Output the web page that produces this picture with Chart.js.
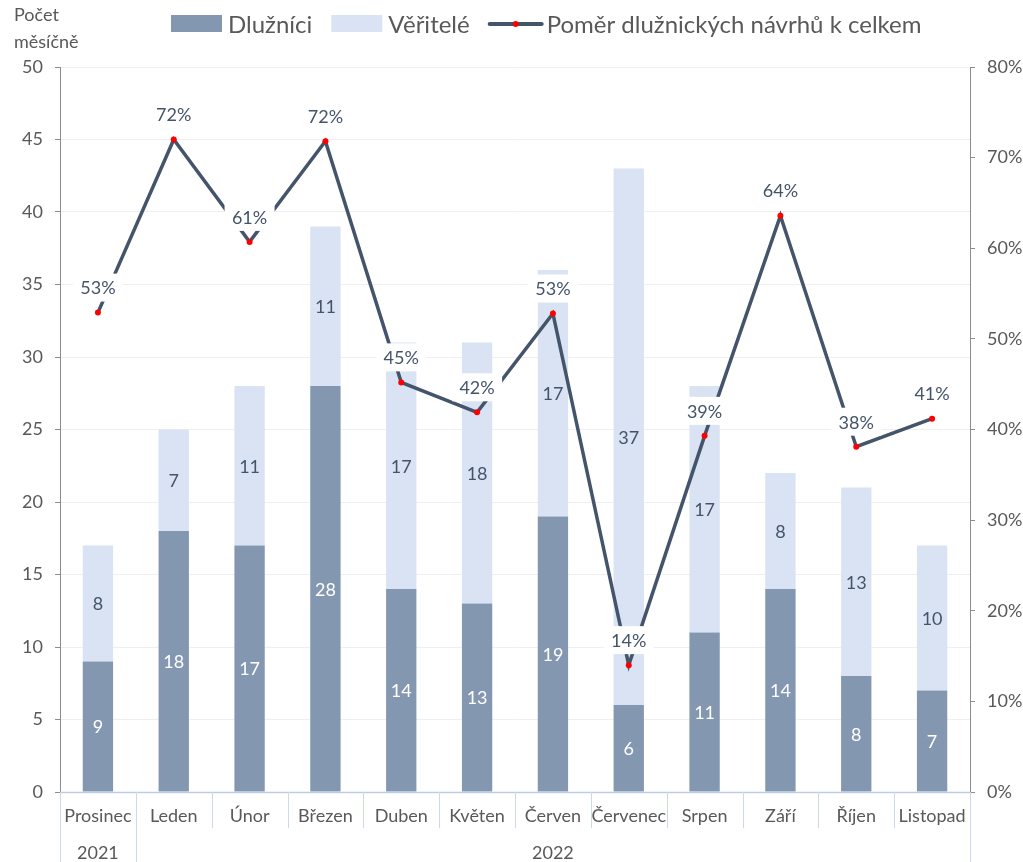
<!DOCTYPE html>
<html>
<head>
<meta charset="utf-8">
<script src="https://cdn.jsdelivr.net/npm/chart.js@4"></script>
<style>
html,body{margin:0;padding:0;background:#fff;}
#wrap{width:1023px;height:862px;position:relative;}
</style>
</head>
<body>
<div id="wrap"><canvas id="c"></canvas></div>
<script>
const categories = ['Prosinec','Leden','Únor','Březen','Duben','Květen','Červen','Červenec','Srpen','Září','Říjen','Listopad'];
const yearLabels = ['2021','2022'];
const yearSpans = [1, 11];
const dluznici = [9,18,17,28,14,13,19,6,11,14,8,7];
const veritele = [8,7,11,11,17,18,17,37,17,8,13,10];
const pomer = [0.529,0.72,0.607,0.718,0.452,0.419,0.528,0.14,0.393,0.636,0.381,0.412];
const seriesNames = ['Dlužníci','Věřitelé','Poměr dlužnických návrhů k celkem'];
const axisTitle = ['Počet','měsíčně'];

const FONT = 'Lato, "Open Sans", sans-serif';
const TXT = '#595959';
const C_DARK = '#8497B0', C_LIGHT = '#DAE3F3', C_LINE = '#44546A';

const overlay = {
  id: 'overlay',
  afterDatasetsDraw(chart) {
    const ctx = chart.ctx;
    ctx.save();
    ctx.font = '18px ' + FONT;
    ctx.textAlign = 'center';
    ctx.textBaseline = 'middle';
    [0,1].forEach(di => {
      const meta = chart.getDatasetMeta(di);
      const data = chart.data.datasets[di].data;
      meta.data.forEach((el, i) => {
        const cy = (el.y + el.base) / 2;
        ctx.fillStyle = di === 0 ? '#FFFFFF' : '#44546A';
        ctx.fillText(String(data[i]), el.x, cy + 1);
      });
    });
    const lm = chart.getDatasetMeta(2);
    lm.data.forEach((el, i) => {
      const v = chart.data.datasets[2].data[i];
      const cy = el.y - 25;
      ctx.fillStyle = '#FFFFFF';
      ctx.fillRect(el.x - 25, cy - 14, 50, 28);
      ctx.fillStyle = '#44546A';
      ctx.fillText(Math.round(v * 100) + '%', el.x, cy + 1);
    });
    ctx.restore();
  },
  afterDraw(chart) {
    const ctx = chart.ctx;
    const xs = chart.scales.x;
    const area = chart.chartArea;
    ctx.save();
    ctx.strokeStyle = '#BCCBE6';
    ctx.lineWidth = 1.5;
    ctx.beginPath();
    ctx.moveTo(area.left, area.bottom + 0.5);
    ctx.lineTo(area.right, area.bottom + 0.5);
    ctx.stroke();
    const n = categories.length;
    const bounds = [];
    for (let i = 0; i <= n; i++) {
      let b;
      if (i === 0) b = area.left;
      else if (i === n) b = area.right;
      else b = (xs.getPixelForValue(i - 1) + xs.getPixelForValue(i)) / 2;
      bounds.push(b);
    }
    ctx.strokeStyle = '#CFD8EA';
    ctx.lineWidth = 1;
    bounds.forEach(b => {
      ctx.beginPath();
      ctx.moveTo(Math.round(b) + 0.5, area.bottom);
      ctx.lineTo(Math.round(b) + 0.5, area.bottom + 36);
      ctx.stroke();
    });
    ctx.font = '18px ' + FONT;
    ctx.fillStyle = TXT;
    ctx.textAlign = 'center';
    ctx.textBaseline = 'middle';
    categories.forEach((c, i) => {
      ctx.fillText(c, xs.getPixelForValue(i), area.bottom + 24);
    });
    let start = 0;
    const ybounds = [0];
    yearLabels.forEach((y, k) => {
      const end = start + yearSpans[k];
      const x0 = bounds[start], x1 = bounds[end];
      ctx.fillText(y, (x0 + x1) / 2, area.bottom + 61);
      ybounds.push(end);
      start = end;
    });
    ybounds.forEach(bi => {
      const b = bounds[bi];
      ctx.beginPath();
      ctx.moveTo(Math.round(b) + 0.5, area.bottom + 36);
      ctx.lineTo(Math.round(b) + 0.5, chart.height);
      ctx.stroke();
    });
    ctx.textAlign = 'left';
    ctx.fillText(axisTitle[0], 14, 15);
    ctx.fillText(axisTitle[1], 14, 42);
    ctx.font = '24px ' + FONT;
    ctx.textBaseline = 'middle';
    let cx = 171;
    const ly = 24;
    [0,1].forEach(di => {
      ctx.fillStyle = chart.data.datasets[di].backgroundColor;
      ctx.fillRect(cx, 15, 51, 17);
      ctx.fillStyle = TXT;
      ctx.fillText(seriesNames[di], cx + 57, ly + 1);
      cx = cx + 57 + ctx.measureText(seriesNames[di]).width + 19;
    });
    ctx.strokeStyle = C_LINE;
    ctx.lineWidth = 4;
    ctx.lineCap = 'round';
    ctx.beginPath();
    ctx.moveTo(cx + 1, ly);
    ctx.lineTo(cx + 53, ly);
    ctx.stroke();
    ctx.fillStyle = '#FF0000';
    ctx.beginPath();
    ctx.arc(cx + 27, ly, 3, 0, Math.PI * 2);
    ctx.fill();
    ctx.fillStyle = TXT;
    ctx.fillText(seriesNames[2], cx + 58, ly + 1);
    ctx.restore();
  }
};

new Chart(document.getElementById('c'), {
  type: 'bar',
  data: {
    labels: categories,
    datasets: [
      { type: 'bar', label: seriesNames[0], data: dluznici, backgroundColor: C_DARK, yAxisID: 'y', order: 2, barPercentage: 0.4, categoryPercentage: 1 },
      { type: 'bar', label: seriesNames[1], data: veritele, backgroundColor: C_LIGHT, yAxisID: 'y', order: 2, barPercentage: 0.4, categoryPercentage: 1 },
      { type: 'line', label: seriesNames[2], data: pomer, yAxisID: 'y1', order: 1,
        borderColor: C_LINE, borderWidth: 3.5, backgroundColor: C_LINE, tension: 0,
        pointRadius: 3, pointBackgroundColor: '#FF0000', pointBorderColor: '#FF0000', pointBorderWidth: 0 }
    ]
  },
  options: {
    responsive: true,
    maintainAspectRatio: false,
    animation: false,
    devicePixelRatio: 1,
    layout: { padding: { top: 67, left: 0, right: 0, bottom: 0 } },
    plugins: { legend: { display: false }, tooltip: { enabled: false }, title: { display: false } },
    scales: {
      x: {
        type: 'category', stacked: true, offset: true,
        grid: { display: false }, border: { display: false },
        ticks: { display: false },
        afterFit: s => { s.height = 70; }
      },
      y: {
        type: 'linear', position: 'left', stacked: true, min: 0, max: 50,
        ticks: { stepSize: 5, color: TXT, font: { family: FONT, size: 18 }, padding: 12 },
        grid: { color: '#EFEFEF', tickColor: '#8C8C8C', tickLength: 5, lineWidth: 1 },
        border: { color: '#8C8C8C', width: 1 },
        afterFit: s => { s.width = 60; }
      },
      y1: {
        type: 'linear', position: 'right', min: 0, max: 0.8,
        ticks: { stepSize: 0.1, color: TXT, font: { family: FONT, size: 18 }, padding: 12,
          callback: v => Math.round(v * 100) + '%' },
        grid: { drawOnChartArea: false, tickColor: '#8C8C8C', tickLength: 5 },
        border: { color: '#8C8C8C', width: 1 },
        afterFit: s => { s.width = 53; }
      }
    }
  },
  plugins: [overlay]
});
</script>
</body>
</html>
